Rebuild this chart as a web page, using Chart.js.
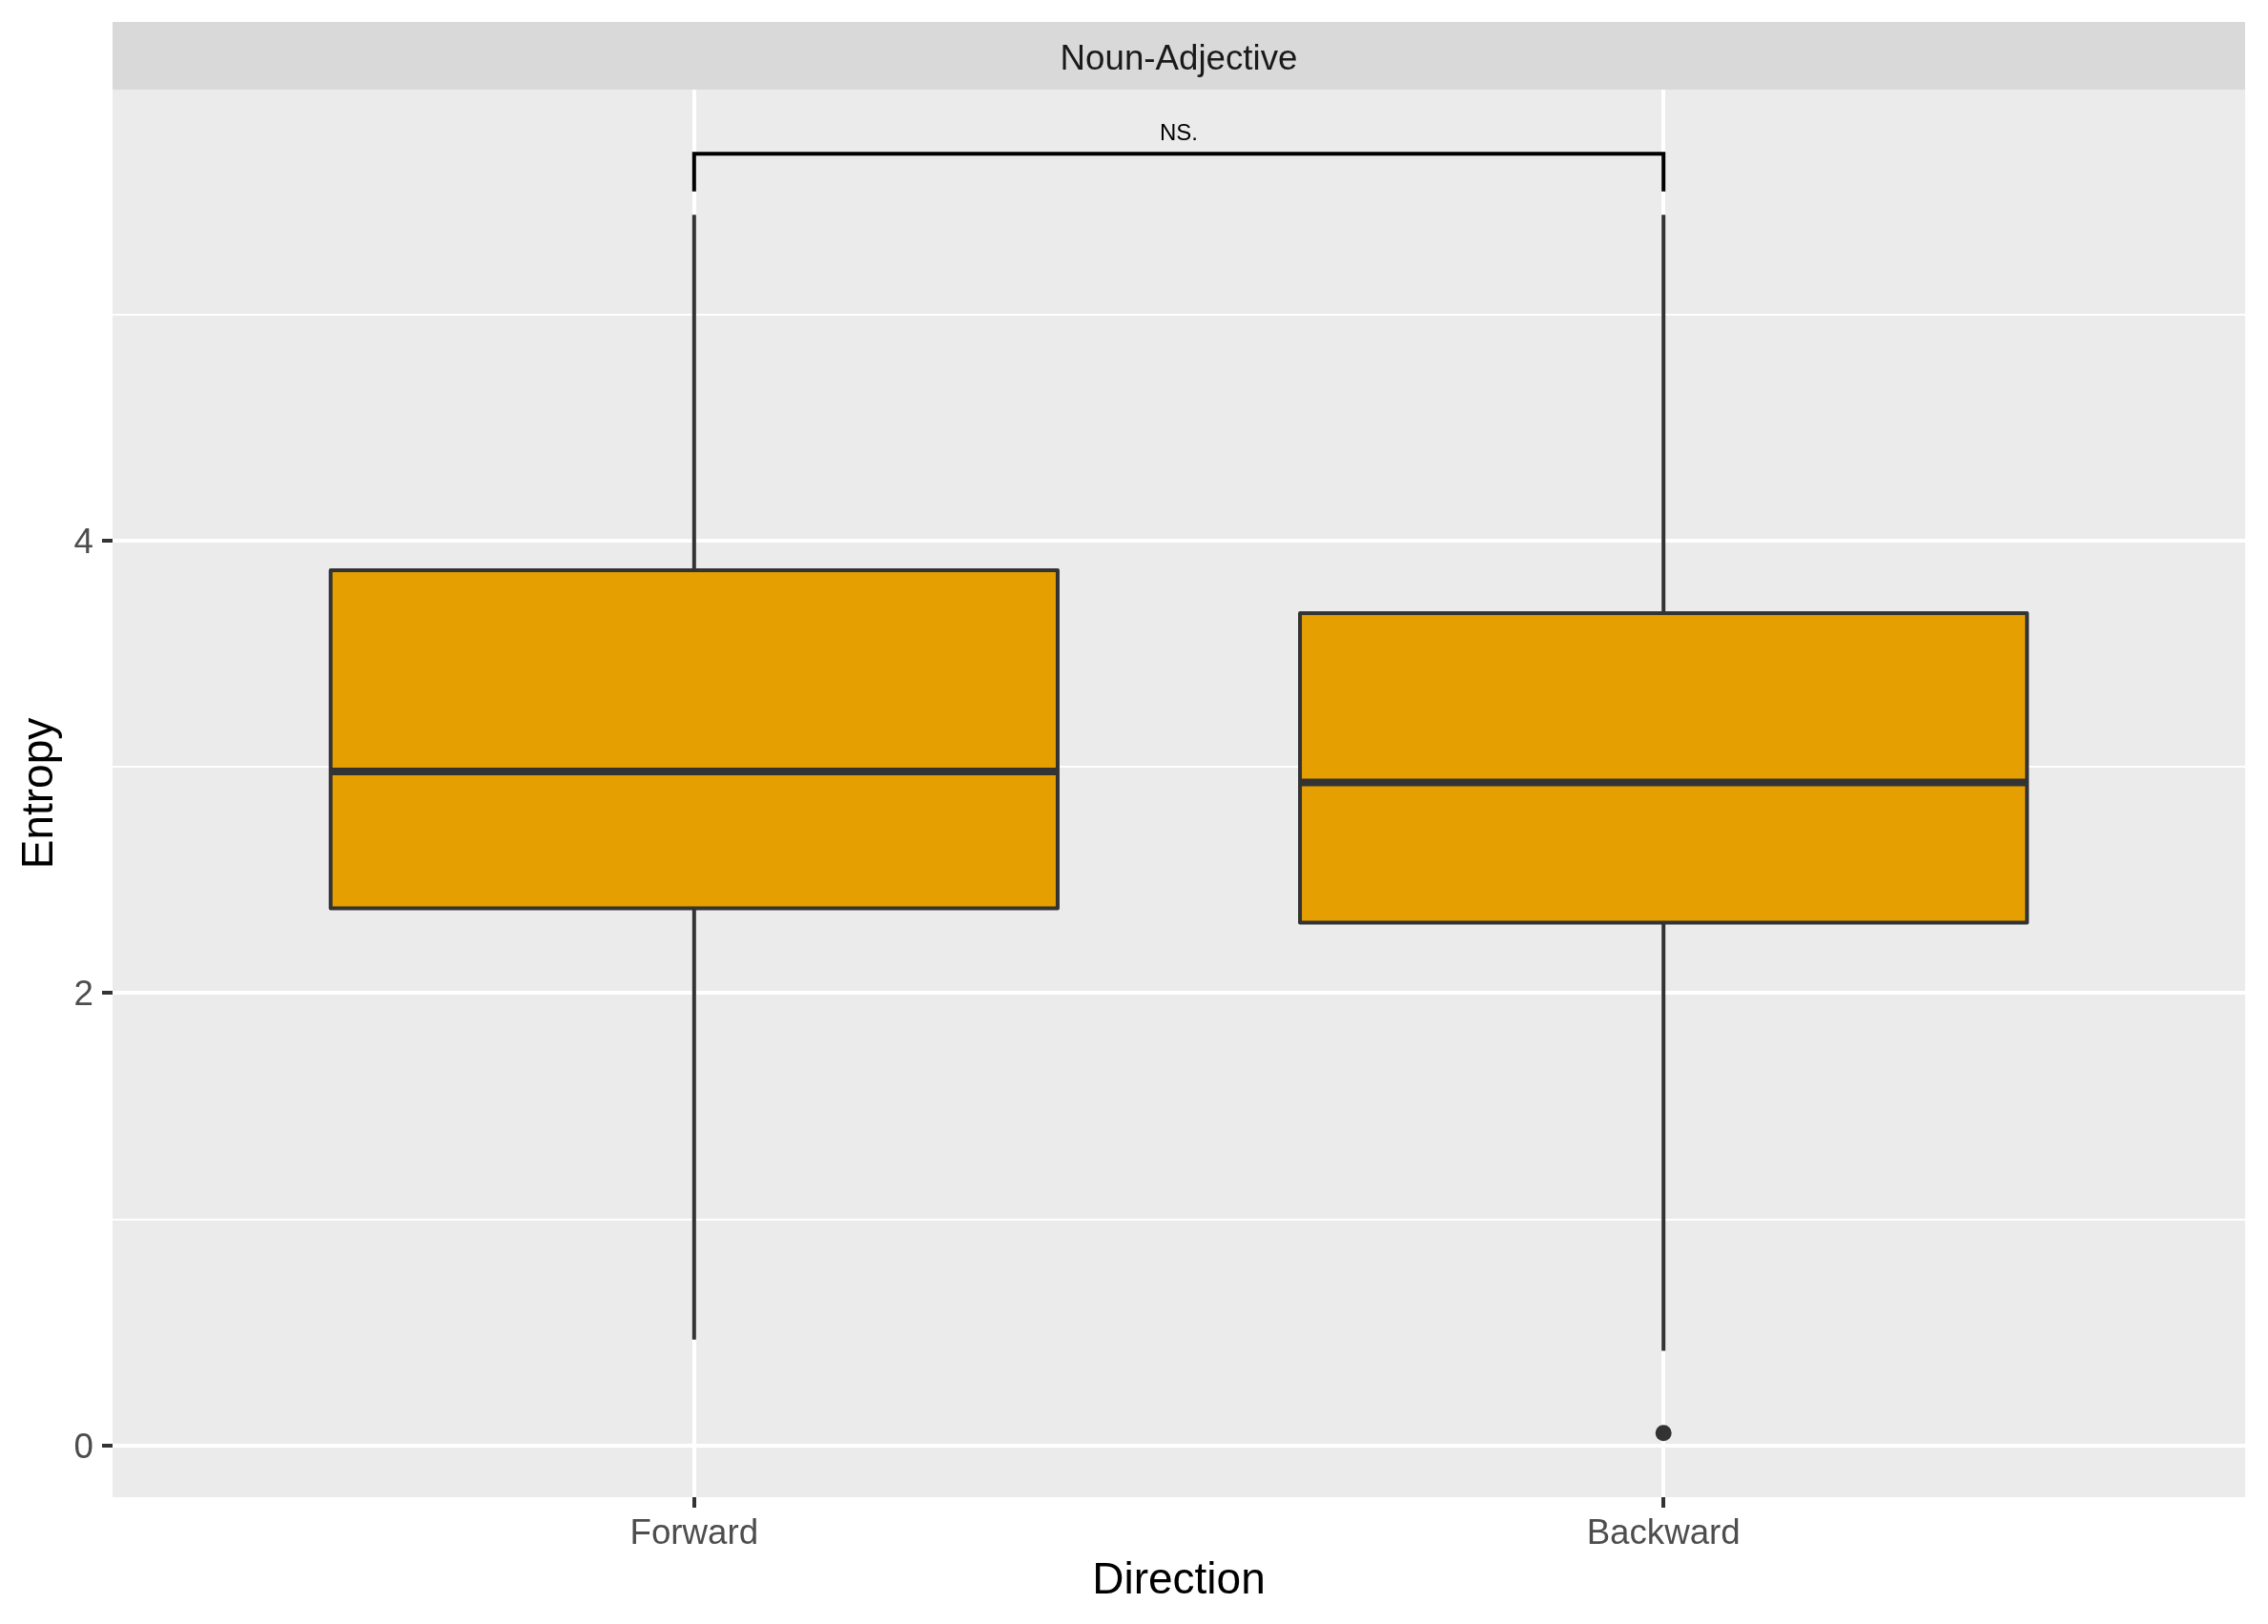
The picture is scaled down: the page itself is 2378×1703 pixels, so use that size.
<!DOCTYPE html>
<html><head><meta charset="utf-8">
<script src="https://cdn.jsdelivr.net/npm/chart.js@4.4.1/dist/chart.umd.min.js"></script>
<style>html,body{margin:0;padding:0;background:#fff;overflow:hidden}</style>
</head><body>
<canvas id="c" width="2378" height="1703"></canvas>
<script>
// ---- data ----
const categories = ['Forward', 'Backward'];
const whiskerLow  = [0.468, 0.419];
const q1          = [2.375, 2.311];
const median      = [2.979, 2.931];
const q3          = [3.869, 3.679];
const whiskerHigh = [5.440, 5.440];
const outliers    = [[], [0.055]];
const yTickValues = [0, 1, 2, 3, 4, 5];
const yLabelled   = [0, 2, 4];
const bracketY    = 5.710;
const bracketTipY = 5.543;
const bracketLabel = 'NS.';
const panelTitle  = 'Noun-Adjective';
const xTitle = 'Direction';
const yTitle = 'Entropy';

const FONT = "'Liberation Sans', Arial, Helvetica, sans-serif";
const outlierData = [];
outliers.forEach((arr, i) => arr.forEach(v => outlierData.push({x: i + 1, y: v})));

const panelPlugin = {
  id: 'panel',
  beforeDraw(chart) {
    const {ctx, chartArea: a} = chart;
    ctx.save();
    ctx.fillStyle = '#EBEBEB';
    ctx.fillRect(a.left, a.top, a.right - a.left, a.bottom - a.top);
    ctx.fillStyle = '#D9D9D9';
    ctx.fillRect(a.left, 23, a.right - a.left, a.top - 23);
    ctx.fillStyle = '#1A1A1A';
    ctx.font = '36.7px ' + FONT;
    ctx.textAlign = 'center';
    ctx.textBaseline = 'middle';
    ctx.fillText(panelTitle, (a.left + a.right) / 2, 63);
    ctx.restore();
  },
  beforeDatasetsDraw(chart) {
    const {ctx} = chart;
    const xs = chart.scales.x, ys = chart.scales.y;
    ctx.save();
    categories.forEach((c, i) => {
      const x = xs.getPixelForValue(i + 1);
      const hw = xs.getPixelForValue(i + 1 + 0.375) - x;
      const yLo = ys.getPixelForValue(whiskerLow[i]);
      const yQ1 = ys.getPixelForValue(q1[i]);
      const yMed = ys.getPixelForValue(median[i]);
      const yQ3 = ys.getPixelForValue(q3[i]);
      const yHi = ys.getPixelForValue(whiskerHigh[i]);
      ctx.strokeStyle = '#333333';
      ctx.lineWidth = 4;
      ctx.beginPath();
      ctx.moveTo(x, yHi); ctx.lineTo(x, yQ3);
      ctx.moveTo(x, yQ1); ctx.lineTo(x, yLo);
      ctx.stroke();
      ctx.fillStyle = '#E69F00';
      ctx.fillRect(x - hw, yQ3, 2 * hw, yQ1 - yQ3);
      ctx.lineJoin = 'round';
      ctx.strokeRect(x - hw, yQ3, 2 * hw, yQ1 - yQ3);
      ctx.lineWidth = 8;
      ctx.lineCap = 'butt';
      ctx.beginPath();
      ctx.moveTo(x - hw, yMed); ctx.lineTo(x + hw, yMed);
      ctx.stroke();
    });
    ctx.restore();
  },
  afterDatasetsDraw(chart) {
    const {ctx} = chart;
    const xs = chart.scales.x, ys = chart.scales.y;
    const x1 = xs.getPixelForValue(1), x2 = xs.getPixelForValue(2);
    const yb = ys.getPixelForValue(bracketY), yt = ys.getPixelForValue(bracketTipY);
    ctx.save();
    ctx.strokeStyle = '#000000';
    ctx.lineWidth = 4;
    ctx.lineJoin = 'miter';
    ctx.beginPath();
    ctx.moveTo(x1, yt); ctx.lineTo(x1, yb); ctx.lineTo(x2, yb); ctx.lineTo(x2, yt);
    ctx.stroke();
    ctx.fillStyle = '#000000';
    ctx.font = '24px ' + FONT;
    ctx.textAlign = 'center';
    ctx.textBaseline = 'alphabetic';
    ctx.fillText(bracketLabel, (x1 + x2) / 2, yb - 14);
    ctx.restore();
  }
};

new Chart(document.getElementById('c'), {
  type: 'scatter',
  data: {
    datasets: [{
      data: outlierData,
      pointRadius: 8.5,
      pointHoverRadius: 8.5,
      pointBackgroundColor: '#333333',
      pointBorderColor: '#333333',
      pointBorderWidth: 0
    }]
  },
  options: {
    responsive: false,
    animation: false,
    devicePixelRatio: 1,
    events: [],
    layout: {padding: {top: 94, right: 24, left: 0, bottom: 0}},
    plugins: {legend: {display: false}, tooltip: {enabled: false}},
    scales: {
      x: {
        type: 'linear', min: 0.4, max: 2.6,
        afterBuildTicks: s => { s.ticks = categories.map((c, i) => ({value: i + 1})); },
        afterFit: s => { s.height = 133; },
        ticks: {
          callback: v => categories[Math.round(v) - 1] || '',
          font: {family: FONT, size: 36.7}, color: '#4D4D4D',
          padding: 6, maxRotation: 0, autoSkip: false
        },
        grid: {color: '#FFFFFF', lineWidth: 4, tickColor: '#333333', tickLength: 11, tickWidth: 4},
        border: {display: false},
        title: {display: true, text: xTitle, font: {family: FONT, size: 46}, color: '#000000', padding: {top: 0, bottom: 17}}
      },
      y: {
        type: 'linear', min: -0.228, max: 5.993,
        afterBuildTicks: s => { s.ticks = yTickValues.map(v => ({value: v})); },
        afterFit: s => { s.width = 118; },
        ticks: {
          callback: v => yLabelled.includes(v) ? String(v) : '',
          font: {family: FONT, size: 36.7}, color: '#4D4D4D', padding: 9, labelOffset: 3
        },
        grid: {
          color: '#FFFFFF',
          lineWidth: c => (c.tick && yLabelled.includes(c.tick.value)) ? 4 : 2,
          tickColor: c => (c.tick && yLabelled.includes(c.tick.value)) ? '#333333' : 'rgba(0,0,0,0)',
          tickLength: 11, tickWidth: 4
        },
        border: {display: false},
        title: {display: true, text: yTitle, font: {family: FONT, size: 46}, color: '#000000', padding: {top: 15, bottom: 0}}
      }
    }
  },
  plugins: [panelPlugin]
});
</script>
</body></html>
